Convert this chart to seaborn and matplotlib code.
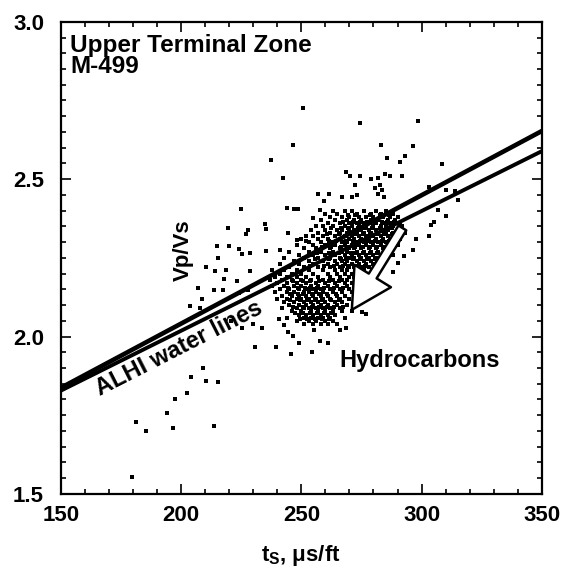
import pandas as pd
import matplotlib.pyplot as plt
import matplotlib.ticker as mticker
import seaborn as sns

# scattered points (ts in us/ft, Vp/Vs)
ts_sparse = [250.8, 274.2, 298.5, 246.6, 283.0, 296.3, 237.3, 285.7, 293.3, 291.0,
             308.6, 242.5, 268.4, 270.4, 274.2, 279.0, 282.0, 284.7, 287.0, 291.8,
             282.7, 280.5, 283.7, 272.2, 303.0, 310.3, 314.0, 315.2, 256.8, 261.7,
             266.9, 271.0, 273.0, 282.0, 284.2, 259.4, 257.9, 310.3, 306.8, 303.8,
             305.3, 303.0, 297.8, 296.3, 292.5, 290.3, 288.0, 275.2, 276.7,
             224.8, 234.9, 235.3, 219.5, 227.8, 227.0, 244.4, 215.0, 220.0, 224.0,
             225.2, 228.5, 235.3, 241.0, 215.5, 210.5, 214.3, 218.8, 217.7, 223.3,
             228.5, 207.2, 213.5, 217.6, 224.0, 227.8, 203.7, 208.7, 207.9, 248.1,
             251.9, 254.9, 247.0, 248.6, 244.0,
             220.6, 225.2, 230.0, 233.8, 230.8, 239.5, 245.9, 248.9, 254.6, 257.6,
             255.3, 260.9, 266.2, 268.4, 244.4, 246.6, 240.6, 242.9,
             209.0, 204.2, 210.2, 215.5, 202.5, 197.4, 194.0, 181.2, 185.4, 196.6,
             213.5, 179.6]
vpvs_sparse = [2.725, 2.679, 2.684, 2.609, 2.609, 2.604, 2.560, 2.567, 2.572, 2.555,
               2.549, 2.505, 2.523, 2.511, 2.509, 2.502, 2.505, 2.517, 2.511, 2.509,
               2.482, 2.471, 2.465, 2.482, 2.476, 2.465, 2.461, 2.434, 2.453, 2.453,
               2.442, 2.442, 2.450, 2.453, 2.442, 2.430, 2.401, 2.382, 2.401, 2.355,
               2.364, 2.320, 2.309, 2.274, 2.257, 2.234, 2.205, 2.078, 2.072,
               2.404, 2.359, 2.341, 2.346, 2.338, 2.326, 2.329, 2.288, 2.288, 2.278,
               2.263, 2.266, 2.271, 2.274, 2.249, 2.222, 2.207, 2.211, 2.182, 2.176,
               2.207, 2.155, 2.149, 2.149, 2.138, 2.147, 2.097, 2.118, 2.092, 2.307,
               2.303, 2.378, 2.404, 2.404, 2.407,
               2.049, 2.026, 2.040, 2.026, 1.968, 1.968, 1.945, 1.980, 1.951, 1.985,
               2.020, 1.980, 2.020, 2.026, 2.014, 2.003, 2.055, 2.037,
               1.899, 1.872, 1.860, 1.855, 1.821, 1.800, 1.758, 1.728, 1.699, 1.710,
               1.717, 1.554]

# dense cloud, read row by row
ts_cluster = [263, 268, 271, 276, 281, 285,
              260, 265, 273, 279, 283, 288,
              262, 267, 270, 274, 277, 280, 284, 287, 290,
              258, 264, 269, 272, 275, 279, 282, 286, 289,
              261, 266, 270, 273, 276, 278, 281, 284, 287, 291,
              256, 259, 263, 268, 271, 274, 277, 280, 283, 285, 288, 292,
              254, 260, 265, 267, 270, 272, 275, 278, 281, 284, 286, 290,
              257, 262, 266, 269, 273, 276, 279, 282, 285, 288, 293,
              252, 255, 259, 264, 268, 271, 274, 277, 280, 283, 286, 289,
              250, 257, 261, 266, 270, 272, 275, 278, 281, 284, 287, 291,
              253, 258, 263, 267, 269, 273, 276, 279, 282, 285, 288,
              248, 255, 260, 264, 268, 271, 274, 277, 280, 283, 286, 290,
              251, 256, 262, 266, 270, 272, 275, 278, 281, 284, 287,
              245, 253, 258, 263, 267, 269, 273, 276, 279, 282, 285,
              249, 255, 260, 264, 268, 271, 274, 277, 280, 283, 288,
              243, 251, 257, 262, 266, 270, 272, 275, 278, 281, 284,
              247, 253, 259, 264, 267, 269, 273, 276, 279, 282,
              241, 249, 255, 261, 265, 268, 271, 274, 277, 280,
              245, 251, 257, 262, 266, 270, 272, 275, 278,
              238, 243, 248, 253, 259, 264, 267, 269, 273, 276, 281,
              241, 246, 250, 255, 261, 265, 268, 271, 274,
              239, 244, 248, 252, 257, 262, 266, 270, 272, 277,
              237, 242, 246, 250, 254, 259, 263, 267, 269, 273,
              240, 244, 248, 252, 256, 260, 264, 268, 271,
              238, 243, 247, 250, 254, 257, 261, 265, 269, 274,
              241, 245, 249, 252, 255, 258, 262, 266, 270,
              239, 244, 247, 251, 253, 256, 259, 263, 267, 271,
              242, 246, 249, 252, 255, 258, 261, 265, 268,
              240, 244, 248, 250, 253, 256, 259, 262, 266, 270,
              243, 247, 251, 254, 257, 260, 264, 267,
              245, 249, 252, 255, 258, 261, 265, 269,
              242, 248, 251, 253, 256, 259, 262, 266,
              246, 250, 254, 257, 260, 263, 267, 271,
              249, 252, 255, 258, 261, 264,
              244, 251, 254, 257, 259, 262, 268,
              248, 253, 256, 260, 263,
              251, 255, 258, 261, 265]
vpvs_cluster = [2.40] * 6 + [2.39] * 6 + [2.38] * 9 + [2.37] * 9 + [2.36] * 10 \
    + [2.35] * 12 + [2.34] * 12 + [2.33] * 11 + [2.32] * 12 + [2.31] * 12 \
    + [2.30] * 11 + [2.29] * 12 + [2.28] * 11 + [2.27] * 11 + [2.26] * 11 \
    + [2.25] * 11 + [2.24] * 10 + [2.23] * 10 + [2.22] * 9 + [2.21] * 11 \
    + [2.20] * 9 + [2.19] * 10 + [2.18] * 10 + [2.17] * 9 + [2.16] * 10 \
    + [2.15] * 9 + [2.14] * 10 + [2.13] * 9 + [2.12] * 10 + [2.11] * 8 \
    + [2.10] * 8 + [2.09] * 8 + [2.08] * 8 + [2.07] * 6 + [2.06] * 7 \
    + [2.05] * 5 + [2.04] * 5

# the two solid-black cores of the cloud, between the rows above
ts_core = [269.5, 272.5, 278.5, 282.5, 286.5,
           267.5, 271.5, 274.5, 277.5, 280.5, 283.5, 285.5, 288.5,
           262.5, 266.5, 269.5, 273.5, 276.5, 279.5, 282.5, 287.5, 290.5,
           260.5, 265.5, 270.5, 272.5, 275.5, 278.5, 281.5, 284.5, 287.5, 290.5,
           261.5, 264.5, 268.5, 271.5, 274.5, 277.5, 280.5, 283.5, 286.5, 289.5,
           258.5, 262.5, 266.5, 269.5, 272.5, 275.5, 278.5, 281.5, 284.5, 288.5,
           256.5, 261.5, 265.5, 270.5, 272.5, 275.5, 278.5, 281.5, 284.5,
           255.5, 261.5, 266.5, 268.5, 271.5, 274.5, 277.5, 280.5,
           253.5, 259.5, 263.5, 267.5, 269.5, 273.5, 276.5,
           246.5, 250.5, 253.5, 257.5, 261.5, 265.5,
           244.5, 248.5, 251.5, 253.5, 256.5, 259.5, 263.5, 267.5,
           245.5, 248.5, 250.5, 254.5, 257.5, 260.5, 264.5,
           245.5, 249.5, 252.5, 255.5, 258.5, 262.5, 265.5,
           246.5, 250.5, 254.5, 257.5, 260.5, 263.5, 267.5,
           247.5, 250.5, 253.5, 256.5, 259.5, 262.5,
           249.5, 252.5, 255.5, 258.5, 261.5]
vpvs_core = [2.385] * 5 + [2.365] * 8 + [2.345] * 9 + [2.325] * 10 + [2.305] * 10 \
    + [2.285] * 10 + [2.265] * 9 + [2.245] * 8 + [2.225] * 7 \
    + [2.175] * 6 + [2.155] * 8 + [2.135] * 7 + [2.115] * 7 + [2.095] * 7 \
    + [2.075] * 6 + [2.055] * 5

# ALHI water lines
line_ts = [150, 350]
upper_vpvs = [1.837, 2.653]
lower_vpvs = [1.828, 2.589]

# hydrocarbon arrow (tail -> head)
arrow_tail = (292.0, 2.345)
arrow_head = (271.0, 2.085)

df = pd.DataFrame({
    "ts": ts_sparse + ts_cluster + ts_core,
    "vpvs": vpvs_sparse + vpvs_cluster + vpvs_core,
})

sns.set_theme(style="ticks")
plt.rcParams['font.family'] = ['Liberation Sans', 'DejaVu Sans']
plt.rcParams['font.weight'] = 'bold'
plt.rcParams['mathtext.fontset'] = 'custom'
plt.rcParams['mathtext.rm'] = 'Liberation Sans:bold'
plt.rcParams['mathtext.bf'] = 'Liberation Sans:bold'
for key in ['text.color', 'axes.labelcolor', 'xtick.color', 'ytick.color', 'axes.edgecolor']:
    plt.rcParams[key] = 'black'

fig = plt.figure(figsize=(5.68, 5.73), dpi=100)
ax = fig.add_axes([0.107, 0.138, 0.847, 0.824])

sns.scatterplot(data=df, x="ts", y="vpvs", ax=ax, color="black", marker="s",
                s=12, linewidth=0)
sns.lineplot(x=line_ts, y=upper_vpvs, ax=ax, color="black", linewidth=3.3)
sns.lineplot(x=line_ts, y=lower_vpvs, ax=ax, color="black", linewidth=2.8)

ax.annotate("", xy=arrow_head, xytext=arrow_tail,
            arrowprops=dict(arrowstyle="simple,head_length=1.3,head_width=1.4,tail_width=0.3",
                            fc="white", ec="black", lw=1.8, mutation_scale=22,
                            shrinkA=0, shrinkB=0))

ax.set_xlim(150, 350)
ax.set_ylim(1.5, 3.0)
ax.xaxis.set_major_locator(mticker.MultipleLocator(50))
ax.xaxis.set_minor_locator(mticker.MultipleLocator(10))
ax.yaxis.set_major_locator(mticker.MultipleLocator(0.5))
ax.yaxis.set_minor_locator(mticker.MultipleLocator(0.05))
ax.yaxis.set_major_formatter(mticker.FormatStrFormatter('%.1f'))
ax.tick_params(which='both', direction='in', top=True, right=True, width=1.2,
               labelsize=16)
ax.tick_params(which='major', length=7)
ax.tick_params(which='minor', length=3.5)
ax.tick_params(axis='x', pad=8)
ax.tick_params(axis='y', pad=12)
for s in ax.spines.values():
    s.set_linewidth(1.6)

ax.set_xlabel(r"t$_\mathbf{S}$, μs/ft", fontsize=16, fontweight='bold', labelpad=12)
ax.set_ylabel("")

ax.text(0.02, 0.975, "Upper Terminal Zone\nM-499", transform=ax.transAxes,
        ha='left', va='top', fontsize=17.5, fontweight='bold', linespacing=0.92)
ax.text(201, 2.275, "Vp/Vs", rotation=90, ha='center', va='center',
        fontsize=16, fontweight='bold')
ax.text(199, 1.962, "ALHI water lines", rotation=27, ha='center', va='center',
        fontsize=17, fontweight='bold', rotation_mode='anchor')
ax.text(299, 1.925, "Hydrocarbons", ha='center', va='center',
        fontsize=17, fontweight='bold')

plt.savefig("out.png", dpi=100)
plt.close()
